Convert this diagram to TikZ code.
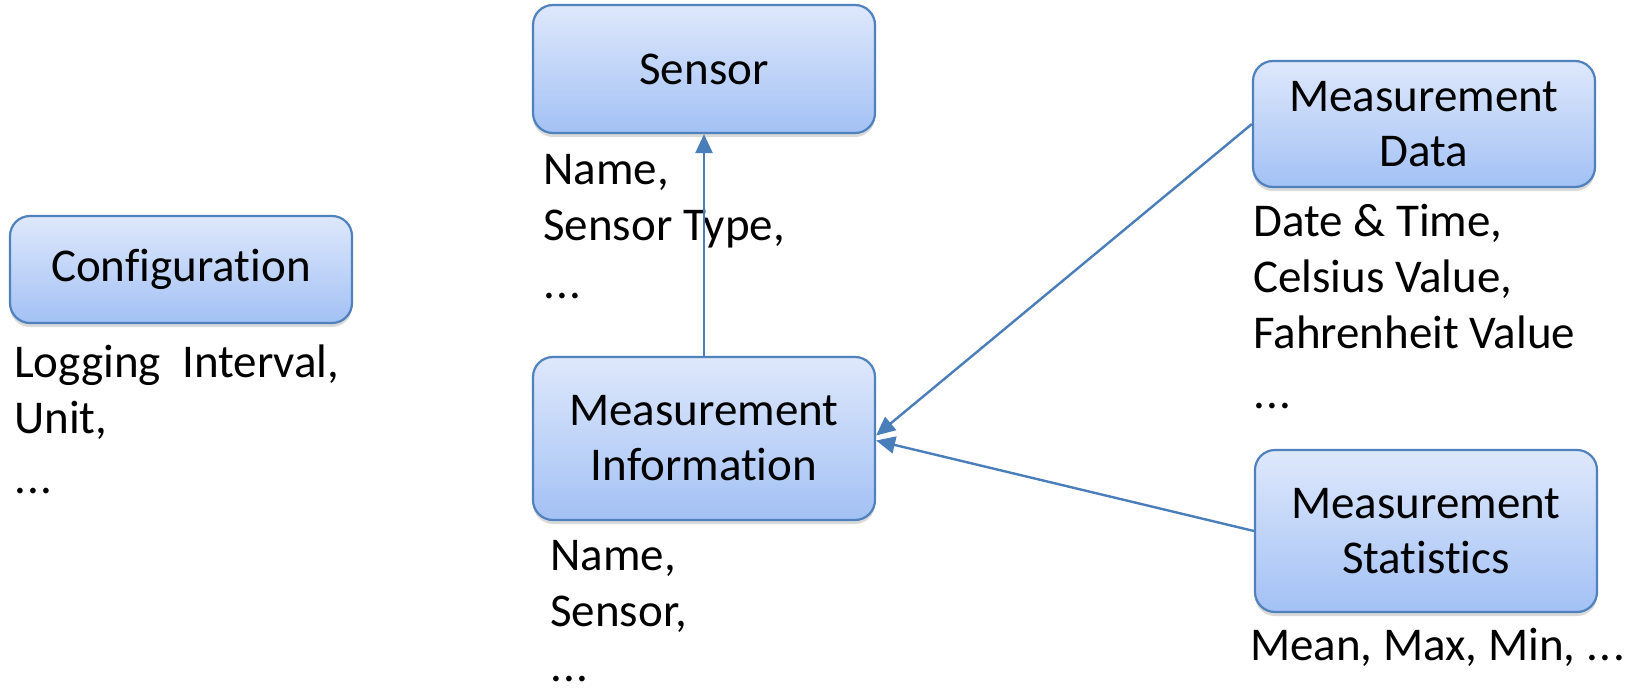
\documentclass[tikz,border=0pt]{standalone}
\usepackage{fontspec}
\setmainfont{Carlito}[Ligatures={NoCommon}]
\usetikzlibrary{arrows.meta,shadows,calc}
\definecolor{boxborder}{HTML}{4F81BD}
\definecolor{boxtop}{HTML}{DEE8FB}
\definecolor{boxbot}{HTML}{A3C1F5}
\definecolor{arrowcol}{HTML}{4A7EBB}
\newcommand{\mydots}{.\kern1.5pt.\kern1.5pt.}
\tikzset{
  entity/.style={draw=boxborder, line width=2.2pt, rounded corners=20pt,
    top color=boxtop, bottom color=boxbot, minimum width=342pt,
    inner sep=0pt, align=center, font=\fontsize{47}{55}\selectfont,
    drop shadow={shadow xshift=0pt, shadow yshift=-4pt, opacity=0.25, fill=black!60}},
  attr/.style={anchor=base west, inner sep=0pt, align=left,
    font=\fontsize{47}{56}\selectfont},
  link/.style={draw=arrowcol, line width=2.4pt,
    -{Triangle[length=19pt,width=17pt]}},
}
\begin{document}
\begin{tikzpicture}[x=1pt,y=-1pt]
\useasboundingbox (0,0) rectangle (1639,688);
% entities
\node[entity, minimum height=107pt] (cfg) at (181,269.5) {Configuration};
\node[entity, minimum height=128pt] (sensor) at (704,69) {Sensor};
\node[entity, minimum height=163pt] (minfo) at (704,438.5) {Measurement\\Information};
\node[entity, minimum height=126pt] (mdata) at (1424,124) {Measurement\\Data};
\node[entity, minimum height=162pt] (mstat) at (1426,531) {Measurement\\Statistics};
% attribute texts (anchored at the baseline of their last line)
\node[attr] (cfgtxt) at (14,493) {Logging\ \ Interval,\\Unit,\\[4pt]\mydots};
\node[attr] (sensortxt) at (543,298) {Name,\\Sensor Type,\\[2pt]\mydots};
\node[attr] (minfotxt) at (550,681) {Name,\\Sensor,\\[-1pt]\mydots};
\node[attr] (mdatatxt) at (1253,408) {Date \& Time,\\Celsius Value,\\Fahrenheit Value\\[4pt]\mydots};
\node[attr] (mstattxt) at (1250,660) {Mean, Max, Min, \mydots};
% connectors
\draw[link] (minfo.north) -- (sensor.south);
\draw[link] (mdata.west) -- ($(minfo.east)+(0,-3)$);
\draw[link] (mstat.west) -- ($(minfo.east)+(0,2)$);
\end{tikzpicture}
\end{document}
